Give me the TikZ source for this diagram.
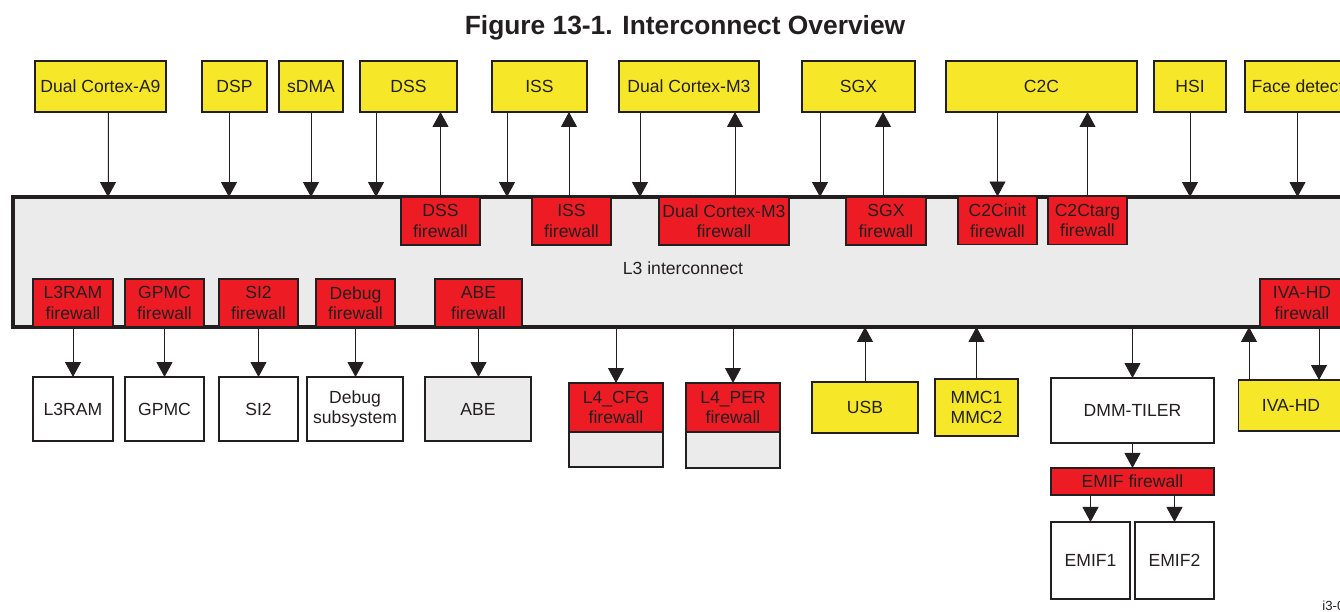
\documentclass[tikz,border=0pt]{standalone}
\usepackage{fontspec}
\setmainfont{Liberation Sans}
\usetikzlibrary{positioning, arrows.meta}
\definecolor{ipyel}{RGB}{246,232,40}
\definecolor{fwred}{RGB}{237,28,36}
\definecolor{l3gry}{RGB}{235,235,235}
\definecolor{lnblk}{RGB}{35,31,32}
\tikzset{
  ipbox/.style  = {draw=lnblk, fill=ipyel, line width=1pt, inner sep=0pt,
                   outer sep=0pt, minimum height=1.02cm, align=center,
                   text=lnblk, font=\fontsize{10}{11.7}\selectfont},
  fwbox/.style  = {draw=lnblk, fill=fwred, line width=1pt, inner sep=0pt,
                   outer sep=0pt, minimum width=1.58cm, minimum height=0.96cm,
                   align=center, text=lnblk, font=\fontsize{10}{11.7}\selectfont},
  membox/.style = {draw=lnblk, fill=white, line width=1pt, inner sep=0pt,
                   outer sep=0pt, minimum width=1.58cm, minimum height=1.28cm,
                   align=center, text=lnblk, font=\fontsize{10}{11.7}\selectfont},
  l3box/.style  = {draw=lnblk, fill=l3gry, line width=2.1pt, inner sep=0pt,
                   outer sep=0pt},
  sigarr/.style = {-{Triangle[length=0.3cm, width=0.32cm]}, line width=0.55pt,
                   draw=lnblk, fill=lnblk},
}

\begin{document}
\begin{tikzpicture}[x=0.02cm, y=-0.02cm]
  \useasboundingbox (0,0) rectangle (1340,612);
  \clip (0,0) rectangle (1340,612);
  \node[text=lnblk, font=\fontsize{15}{18}\selectfont\bfseries] (ttl) at (685,28)
       {Figure 13-1. Interconnect Overview};

  \node[l3box, minimum width=26.8cm, minimum height=2.6cm] (l3) at (683,262) {};
  \node[text=lnblk, font=\fontsize{10}{12}\selectfont] (l3lbl) at (683,268) {L3 interconnect};

  \node[ipbox, minimum width=2.62cm] (a9)   at (100.5,86.5)  {Dual Cortex-A9};
  \node[ipbox, minimum width=1.30cm] (dsp)  at (234.5,86.5)  {DSP};
  \node[ipbox, minimum width=1.28cm] (sdma) at (311,86.5)    {sDMA};
  \node[ipbox, minimum width=1.94cm] (dss)  at (408.5,86.5)  {DSS};
  \node[ipbox, minimum width=1.90cm] (iss)  at (539.5,86.5)  {ISS};
  \node[ipbox, minimum width=2.80cm] (m3)   at (689,86.5)    {Dual Cortex-M3};
  \node[ipbox, minimum width=2.26cm] (sgx)  at (858.5,86.5)  {SGX};
  \node[ipbox, minimum width=3.82cm] (c2c)  at (1041.5,86.5) {C2C};
  \node[ipbox, minimum width=1.44cm] (hsi)  at (1190,86.5)   {HSI};
  \node[ipbox, minimum width=2.10cm] (face) at (1297.5,86.5) {Face detect};

  \node[fwbox] (dssfw)     at (440.5,221)  {DSS\\firewall};
  \node[fwbox] (issfw)     at (571.5,221)  {ISS\\firewall};
  \node[fwbox, minimum width=2.60cm] (m3fw) at (724,221) {Dual Cortex-M3\\firewall};
  \node[fwbox, minimum width=1.60cm] (sgxfw) at (886,221) {SGX\\firewall};
  \node[fwbox] (c2cinitfw) at (997.5,220.5) {C2Cinit\\firewall};
  \node[fwbox] (c2ctargfw) at (1087.5,220.5) {C2Ctarg\\firewall};

  \node[fwbox, minimum width=1.60cm] (l3ramfw) at (73,303)    {L3RAM\\firewall};
  \node[fwbox] (gpmcfw)  at (164.5,303) {GPMC\\firewall};
  \node[fwbox] (si2fw)   at (258.5,303) {SI2\\firewall};
  \node[fwbox] (dbgfw)   at (355.5,303) {Debug\\firewall};
  \node[fwbox, minimum width=1.74cm] (abefw)   at (478.5,303) {ABE\\firewall};
  \node[fwbox, minimum width=1.68cm] (ivafw)   at (1302,303)  {IVA-HD\\firewall};

  \node[membox, minimum width=1.60cm] (l3ram) at (73,409)    {L3RAM};
  \node[membox] (gpmc)  at (164.5,409) {GPMC};
  \node[membox] (si2)   at (258.5,409) {SI2};
  \node[membox, minimum width=1.92cm] (dbg) at (355,409) {Debug\\subsystem};
  \node[membox, minimum width=2.12cm, fill=l3gry] (abe) at (478,409) {ABE};

  \node[fwbox, minimum width=1.88cm, minimum height=0.98cm] (l4cfgfw) at (616,407.5) {L4\_CFG\\firewall};
  \node[membox, minimum width=1.88cm, minimum height=0.70cm, fill=l3gry,
        below=0pt of l4cfgfw] (l4cfg) {};
  \node[fwbox, minimum width=1.88cm, minimum height=0.98cm] (l4perfw) at (733,407.5) {L4\_PER\\firewall};
  \node[membox, minimum width=1.88cm, minimum height=0.72cm, fill=l3gry,
        below=0pt of l4perfw] (l4per) {};

  \node[ipbox, minimum width=2.12cm] (usb) at (865,407.5)  {USB};
  \node[ipbox, minimum width=1.66cm, minimum height=1.14cm] (mmc) at (976.5,407.5) {MMC1\\MMC2};
  \node[membox, minimum width=3.26cm, minimum height=1.30cm] (dmm) at (1132.5,410.5) {DMM-TILER};
  \node[ipbox, minimum width=2.10cm] (iva) at (1291,405.5) {IVA-HD};

  \node[fwbox, minimum width=3.26cm, minimum height=0.54cm,
        below=0.5cm of dmm] (emiffw) {EMIF firewall};
  \node[membox, minimum width=1.58cm, minimum height=1.54cm,
        below right=0.54cm and 0cm of emiffw.south west] (emif1) {EMIF1};
  \node[membox, minimum width=1.58cm, minimum height=1.54cm,
        below left=0.54cm and 0cm of emiffw.south east] (emif2) {EMIF2};

  \node[anchor=west, inner sep=0pt, text=lnblk, font=\fontsize{7.5}{8}\selectfont] (fignum) at (1322,606) {i3-0};

  \foreach \n/\dx in {a9/0.15, dsp/-0.11, sdma/0, dss/-0.65, iss/-0.65,
                      m3/-0.98, sgx/-0.77, hsi/0, face/0}
    \draw[sigarr] ([xshift=\dx cm]\n.south) coordinate (t) -- (t |- l3.north);
  \draw[sigarr] (c2cinitfw.north |- c2c.south) -- (c2cinitfw.north);
  \foreach \n/\m/\dx in {dssfw/dss/0, issfw/iss/-0.05, m3fw/m3/0.22,
                         sgxfw/sgx/-0.06, c2ctargfw/c2c/0}
    \draw[sigarr] ([xshift=\dx cm]\n.north) coordinate (t) -- (t |- \m.south);

  \foreach \n/\m in {l3ramfw/l3ram, gpmcfw/gpmc, si2fw/si2, dbgfw/dbg, abefw/abe}
    \draw[sigarr] (\n.south) -- (\n.south |- \m.north);
  \foreach \m in {l4cfgfw, l4perfw, dmm}
    \draw[sigarr] (\m.north |- l3.south) -- (\m.north);
  \foreach \m in {usb, mmc}
    \draw[sigarr] (\m.north) -- (\m.north |- l3.south);
  \draw[sigarr] ([xshift=-0.84cm]iva.north) coordinate (t) -- (t |- l3.south);
  \draw[sigarr] ([xshift=0.34cm]ivafw.south) coordinate (t) -- (t |- iva.north);
  \draw[sigarr] (dmm) -- (emiffw);
  \draw[sigarr] (emif1.north |- emiffw.south) -- (emif1.north);
  \draw[sigarr] (emif2.north |- emiffw.south) -- (emif2.north);
\end{tikzpicture}
\end{document}
